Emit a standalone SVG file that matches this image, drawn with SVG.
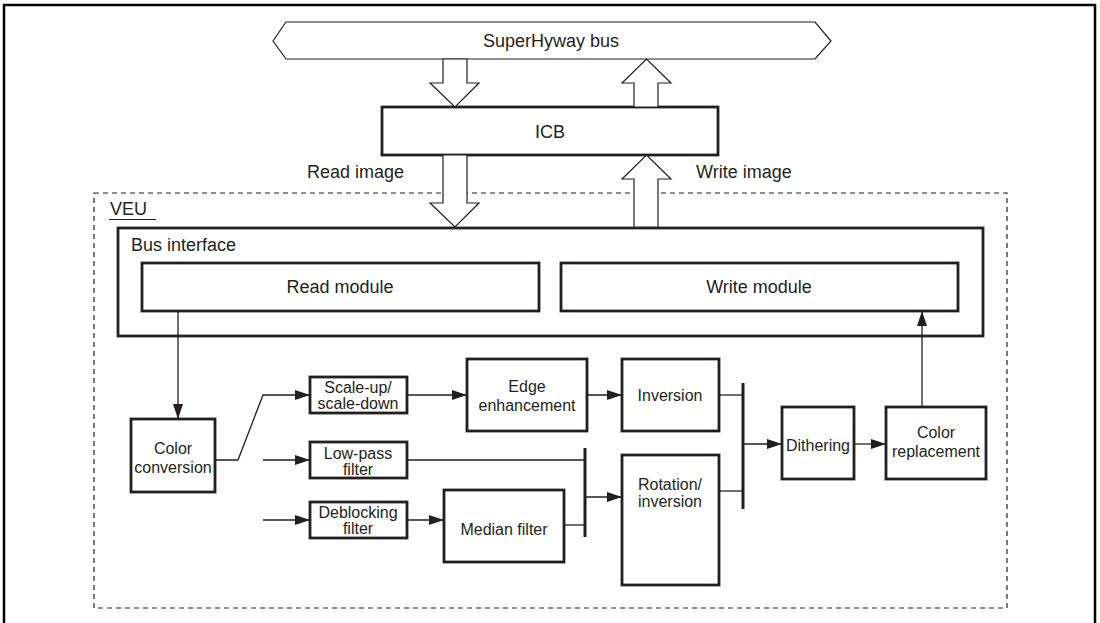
<svg xmlns="http://www.w3.org/2000/svg" width="1100" height="623" viewBox="0 0 1100 623">
<style>
  .t{font-family:"Liberation Sans",Arial,sans-serif;fill:#231f20}
  .big{font-size:18px}
  .sm{font-size:16px}
  .box{fill:#fff;stroke:#231f20;stroke-width:2.8}
  .hol{fill:#fff;stroke:#231f20;stroke-width:1.2;stroke-linejoin:miter}
  .ln{fill:none;stroke:#231f20;stroke-width:1.3}
  .bar{fill:none;stroke:#231f20;stroke-width:3}
</style>
<defs>
  <marker id="ah" markerUnits="userSpaceOnUse" markerWidth="16" markerHeight="10" refX="15" refY="5" orient="auto">
    <path d="M0,0 L15,5 L0,10 Z" fill="#231f20"/>
  </marker>
</defs>
<rect width="1100" height="623" fill="#fff"/>
<path d="M4,625 V5 H1095 V625" fill="none" stroke="#000" stroke-width="2.5"/>

<g id="veu">
  <rect x="94" y="193" width="913" height="415" fill="none" stroke="#231f20" stroke-width="1.2" stroke-dasharray="5 4"/>
  <text class="t big" x="110" y="215">VEU</text>
  <line x1="109" y1="219.5" x2="156" y2="219.5" stroke="#231f20" stroke-width="1.2"/>
</g>

<g id="bus">
  <polygon points="273,41 286,22 815,22 831,41 815,59 286,59" fill="#fff" stroke="#231f20" stroke-width="1.2"/>
  <text class="t big" x="551" y="47" text-anchor="middle">SuperHyway bus</text>
</g>

<g id="icb">
  <rect class="box" x="382" y="107" width="336" height="48"/>
  <text class="t big" x="550" y="138" text-anchor="middle">ICB</text>
</g>

<g id="bus-interface">
  <rect class="box" x="118" y="228" width="865" height="108"/>
  <text class="t big" x="131" y="251">Bus interface</text>
</g>

<g id="read-module">
  <rect class="box" x="142" y="263" width="397" height="48"/>
  <text class="t big" x="340" y="293" text-anchor="middle">Read module</text>
</g>

<g id="write-module">
  <rect class="box" x="561" y="263" width="397" height="48"/>
  <text class="t big" x="759" y="293" text-anchor="middle">Write module</text>
</g>

<g id="color-conversion">
  <rect class="box" x="131" y="419" width="84" height="73"/>
  <text class="t sm" text-anchor="middle"><tspan x="173" y="454">Color</tspan><tspan x="173" y="473">conversion</tspan></text>
</g>

<g id="scale">
  <rect class="box" x="310" y="377" width="97" height="36"/>
  <text class="t sm" text-anchor="middle"><tspan x="358" y="393">Scale-up/</tspan><tspan x="358" y="409">scale-down</tspan></text>
</g>

<g id="low-pass">
  <rect class="box" x="310" y="442" width="97" height="36"/>
  <text class="t sm" text-anchor="middle"><tspan x="358" y="459">Low-pass</tspan><tspan x="358" y="475">filter</tspan></text>
</g>

<g id="deblocking">
  <rect class="box" x="310" y="502" width="97" height="36"/>
  <text class="t sm" text-anchor="middle"><tspan x="358" y="518">Deblocking</tspan><tspan x="358" y="534">filter</tspan></text>
</g>

<g id="edge">
  <rect class="box" x="467" y="359" width="120" height="72"/>
  <text class="t sm" text-anchor="middle"><tspan x="527" y="392">Edge</tspan><tspan x="527" y="411">enhancement</tspan></text>
</g>

<g id="median">
  <rect class="box" x="444" y="490" width="120" height="72"/>
  <text class="t sm" x="504" y="535" text-anchor="middle">Median filter</text>
</g>

<g id="inversion">
  <rect class="box" x="622" y="359" width="97" height="72"/>
  <text class="t sm" x="670" y="401" text-anchor="middle">Inversion</text>
</g>

<g id="rotation">
  <rect class="box" x="622" y="455" width="97" height="130"/>
  <text class="t sm" text-anchor="middle"><tspan x="670" y="490">Rotation/</tspan><tspan x="670" y="507">inversion</tspan></text>
</g>

<g id="dithering">
  <rect class="box" x="782" y="407" width="72" height="72"/>
  <text class="t sm" x="818" y="451" text-anchor="middle">Dithering</text>
</g>

<g id="color-replacement">
  <rect class="box" x="886" y="407" width="100" height="72"/>
  <text class="t sm" text-anchor="middle"><tspan x="936" y="438">Color</tspan><tspan x="936" y="457">replacement</tspan></text>
</g>

<g id="connectors">
  <polygon class="hol" points="443,59 467,59 467,83 479,83 455,107 430,83 443,83"/>
  <polygon class="hol" points="634,107 634,83 622,83 646.5,59 671,83 658,83 658,107"/>
  <polygon class="hol" points="443,155 467,155 467,203 479,203 455,227 430,203 443,203"/>
  <polygon class="hol" points="634,227 634,179 622,179 646.5,155 671,179 658,179 658,227"/>
  <text class="t big" x="307" y="178">Read image</text>
  <text class="t big" x="696" y="178">Write image</text>

  <path class="ln" d="M178,311 V419" marker-end="url(#ah)"/>
  <path class="ln" d="M215,460 H238 L263,395 H310" marker-end="url(#ah)"/>
  <path class="ln" d="M407,395 H467" marker-end="url(#ah)"/>
  <path class="ln" d="M587,395 H622" marker-end="url(#ah)"/>
  <path class="ln" d="M263,460 H310" marker-end="url(#ah)"/>
  <path class="ln" d="M407,460 H585"/>
  <path class="ln" d="M263,520 H310" marker-end="url(#ah)"/>
  <path class="ln" d="M407,520 H444" marker-end="url(#ah)"/>
  <path class="ln" d="M564,525 H585"/>
  <path class="bar" d="M585,448 V537"/>
  <path class="ln" d="M585,497 H622" marker-end="url(#ah)"/>
  <path class="ln" d="M719,395 H743"/>
  <path class="ln" d="M719,491 H743"/>
  <path class="bar" d="M743,383 V509"/>
  <path class="ln" d="M743,444 H782" marker-end="url(#ah)"/>
  <path class="ln" d="M854,444 H886" marker-end="url(#ah)"/>
  <path class="ln" d="M922,407 V311" marker-end="url(#ah)"/>
</g>
</svg>
